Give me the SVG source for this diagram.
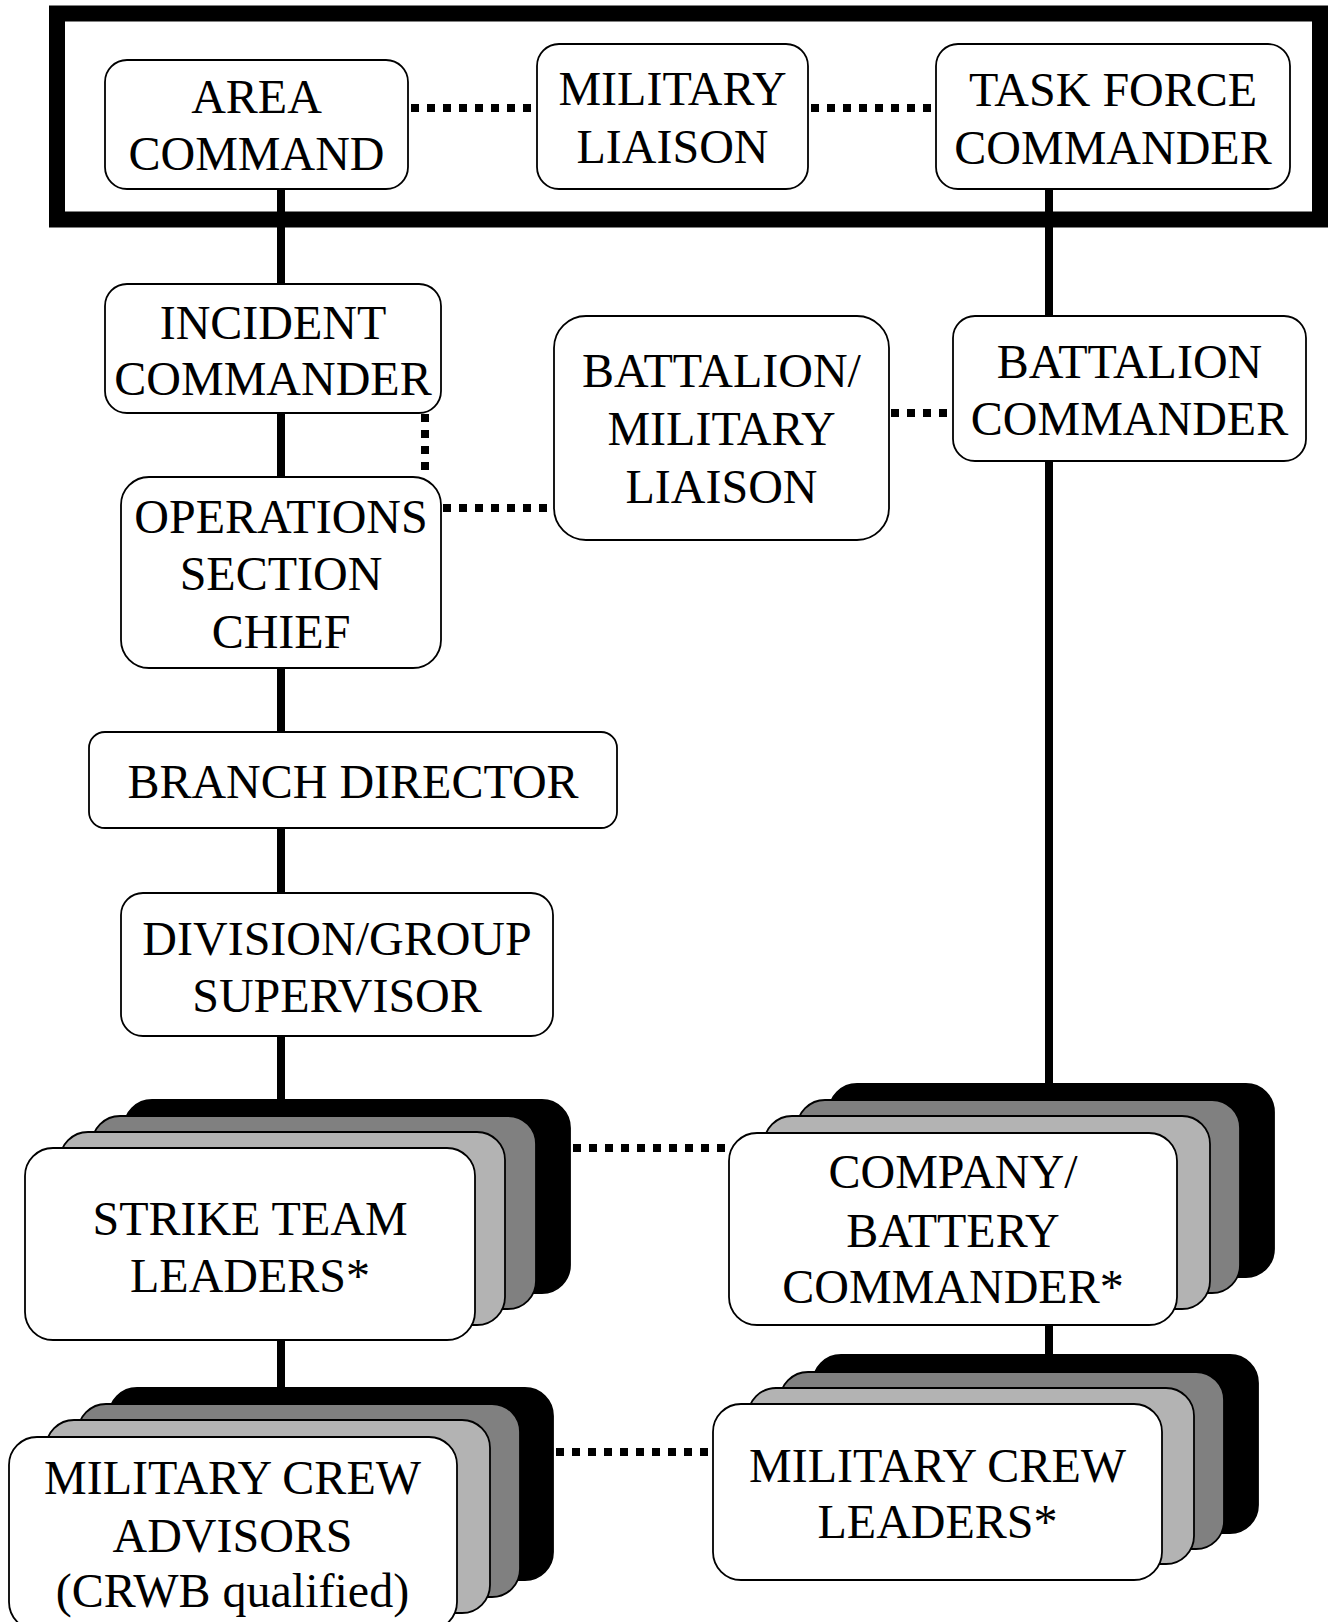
<svg xmlns="http://www.w3.org/2000/svg" width="1330" height="1622" viewBox="0 0 1330 1622">
<style>
.box{fill:#fff;stroke:#000;stroke-width:1.8}
.lg{fill:#b3b3b3;stroke:#000;stroke-width:1.8}
.dg{fill:#808080;stroke:#000;stroke-width:1.8}
.bk{fill:#000;stroke:#000;stroke-width:1.8}
.solid{stroke:#000;stroke-width:8;fill:none}
.dot{stroke:#000;stroke-width:8;fill:none;stroke-dasharray:8 8}
text{font-family:"Liberation Serif","Times New Roman",serif;font-size:48px;text-anchor:middle;fill:#000}
</style>
<rect width="1330" height="1622" fill="#fff"/>
<g id="frame">
<rect x="57" y="13.5" width="1263" height="206" fill="none" stroke="#000" stroke-width="16"/>
</g>
<g id="connectors">
<line class="solid" x1="281" y1="189" x2="281" y2="284"/>
<line class="solid" x1="281" y1="413" x2="281" y2="477"/>
<line class="solid" x1="281" y1="668" x2="281" y2="732"/>
<line class="solid" x1="281" y1="828" x2="281" y2="893"/>
<line class="solid" x1="281" y1="1036" x2="281" y2="1150"/>
<line class="solid" x1="281" y1="1340" x2="281" y2="1440"/>
<line class="solid" x1="1049" y1="189" x2="1049" y2="316"/>
<line class="solid" x1="1049" y1="461" x2="1049" y2="1135"/>
<line class="solid" x1="1049" y1="1325" x2="1049" y2="1406"/>
<line class="dot" x1="411" y1="108" x2="536" y2="108"/>
<line class="dot" x1="811" y1="108" x2="936" y2="108"/>
<line class="dot" x1="425" y1="414" x2="425" y2="478"/>
<line class="dot" x1="443" y1="508" x2="553" y2="508"/>
<line class="dot" x1="891" y1="413" x2="952" y2="413"/>
<line class="dot" x1="573" y1="1148" x2="729" y2="1148"/>
<line class="dot" x1="556" y1="1452" x2="713" y2="1452"/>
</g>
<g id="area-command">
<rect class="box" x="105" y="60" width="303" height="129" rx="22"/>
<text x="256.5" y="113">AREA</text>
<text x="256.5" y="170">COMMAND</text>
</g>
<g id="military-liaison">
<rect class="box" x="537" y="44" width="271" height="145" rx="22"/>
<text x="672.5" y="105">MILITARY</text>
<text x="672.5" y="163">LIAISON</text>
</g>
<g id="task-force-commander">
<rect class="box" x="936" y="44" width="354" height="145" rx="22"/>
<text x="1113" y="106">TASK FORCE</text>
<text x="1113" y="164">COMMANDER</text>
</g>
<g id="incident-commander">
<rect class="box" x="105" y="284" width="336" height="129" rx="22"/>
<text x="273" y="339">INCIDENT</text>
<text x="273" y="395">COMMANDER</text>
</g>
<g id="operations-section-chief">
<rect class="box" x="121" y="477" width="320" height="191" rx="28"/>
<text x="281" y="533">OPERATIONS</text>
<text x="281" y="590">SECTION</text>
<text x="281" y="648">CHIEF</text>
</g>
<g id="battalion-military-liaison">
<rect class="box" x="554" y="316" width="335" height="224" rx="32"/>
<text x="721.5" y="387">BATTALION/</text>
<text x="721.5" y="445">MILITARY</text>
<text x="721.5" y="503">LIAISON</text>
</g>
<g id="battalion-commander">
<rect class="box" x="953" y="316" width="353" height="145" rx="22"/>
<text x="1129.5" y="378">BATTALION</text>
<text x="1129.5" y="435">COMMANDER</text>
</g>
<g id="branch-director">
<rect class="box" x="89" y="732" width="528" height="96" rx="16"/>
<text x="353" y="798">BRANCH DIRECTOR</text>
</g>
<g id="division-group-supervisor">
<rect class="box" x="121" y="893" width="432" height="143" rx="22"/>
<text x="337" y="955">DIVISION/GROUP</text>
<text x="337" y="1012">SUPERVISOR</text>
</g>
<g id="strike-team-leaders">
<rect class="bk" x="124" y="1100" width="446" height="193" rx="28"/>
<rect class="dg" x="92" y="1116" width="444" height="193" rx="28"/>
<rect class="lg" x="60" y="1132" width="445" height="193" rx="28"/>
<rect class="box" x="25" y="1148" width="450" height="192" rx="28"/>
<text x="250" y="1235">STRIKE TEAM</text>
<text x="250" y="1292">LEADERS*</text>
</g>
<g id="company-battery-commander">
<rect class="bk" x="829" y="1084" width="445" height="193" rx="28"/>
<rect class="dg" x="797" y="1100" width="443" height="193" rx="28"/>
<rect class="lg" x="764" y="1116" width="446" height="193" rx="28"/>
<rect class="box" x="729" y="1133" width="448" height="192" rx="28"/>
<text x="953" y="1188">COMPANY/</text>
<text x="953" y="1247">BATTERY</text>
<text x="953" y="1303">COMMANDER*</text>
</g>
<g id="military-crew-advisors">
<rect class="bk" x="109" y="1388" width="444" height="192" rx="28"/>
<rect class="dg" x="78" y="1404" width="442" height="193" rx="28"/>
<rect class="lg" x="46" y="1420" width="444" height="193" rx="28"/>
<rect class="box" x="9" y="1437" width="448" height="193" rx="28"/>
<text x="232.5" y="1494">MILITARY CREW</text>
<text x="232.5" y="1552">ADVISORS</text>
<text x="232.5" y="1607">(CRWB qualified)</text>
</g>
<g id="military-crew-leaders">
<rect class="bk" x="813" y="1355" width="445" height="178" rx="28"/>
<rect class="dg" x="780" y="1372" width="444" height="177" rx="28"/>
<rect class="lg" x="748" y="1388" width="446" height="176" rx="28"/>
<rect class="box" x="713" y="1404" width="449" height="176" rx="28"/>
<text x="937.5" y="1482">MILITARY CREW</text>
<text x="937.5" y="1538">LEADERS*</text>
</g>
</svg>
